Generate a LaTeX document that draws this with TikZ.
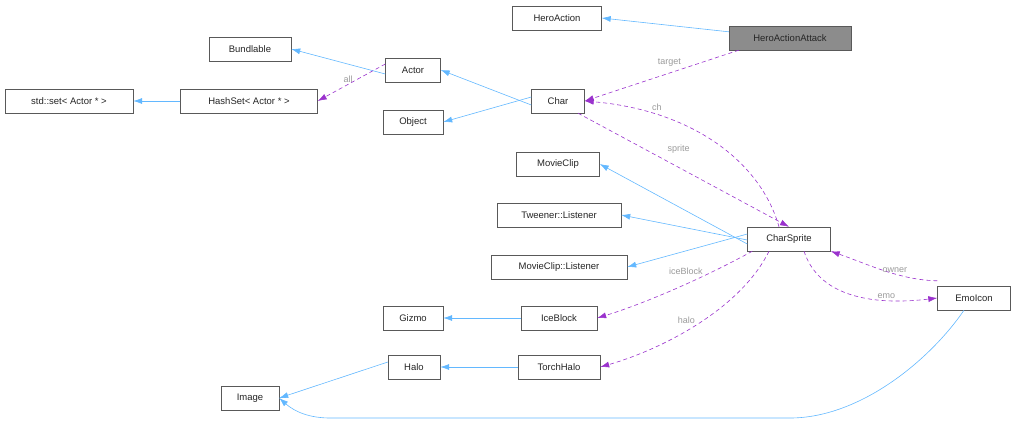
\documentclass[tikz,border=0pt]{standalone}
\usepackage{fontspec}
\setmainfont{Liberation Sans}
\usetikzlibrary{arrows.meta}
\definecolor{inh}{HTML}{63B8FF}
\definecolor{use}{HTML}{9A32CD}
\definecolor{lbl}{HTML}{9A9A9A}
\begin{document}
\begin{tikzpicture}[x=1pt,y=-1pt,
  box/.style={draw=black!65,fill=white,inner sep=0pt,minimum height=24pt,text=black!85,font=\fontsize{9.5}{11}\selectfont},
  inhe/.style={draw=inh,-{Latex[length=9pt,width=6pt]},line width=0.6pt},
  uses/.style={draw=use,dash pattern=on 4pt off 3pt,-{Latex[length=9pt,width=6pt]},line width=0.6pt},
  lb/.style={font=\fontsize{9}{10}\selectfont,text=lbl,inner sep=1pt}]
\useasboundingbox (0,0) rectangle (1017,424);
\node[box,minimum width=89pt] (ha) at (557,18) {HeroAction};
\node[box,minimum width=122pt,fill=black!45] (haa) at (790,38) {HeroActionAttack};
\node[box,minimum width=82pt] (bund) at (250,49) {Bundlable};
\node[box,minimum width=55pt] (actor) at (413,70) {Actor};
\node[box,minimum width=128pt] (set) at (69,101) {std::set< Actor * >};
\node[box,minimum width=137pt] (hash) at (249,101) {HashSet< Actor * >};
\node[box,minimum width=53pt] (char) at (558,101) {Char};
\node[box,minimum width=60pt] (obj) at (413,122) {Object};
\node[box,minimum width=83pt] (mc) at (558,164) {MovieClip};
\node[box,minimum width=124pt] (tl) at (559,215) {Tweener::Listener};
\node[box,minimum width=83pt] (cs) at (789,239) {CharSprite};
\node[box,minimum width=136pt] (mcl) at (559,267) {MovieClip::Listener};
\node[box,minimum width=60pt] (giz) at (413,318) {Gizmo};
\node[box,minimum width=76pt] (ice) at (559,318) {IceBlock};
\node[box,minimum width=73pt] (emo) at (974,298) {EmoIcon};
\node[box,minimum width=52pt] (halo) at (414,367) {Halo};
\node[box,minimum width=82pt] (th) at (559,367) {TorchHalo};
\node[box,minimum width=58pt] (img) at (250,398) {Image};
% inheritance
\draw[inhe] ([yshift=-6pt]haa.north west) -- (ha.east);
\draw[inhe] ([yshift=-4pt]actor.west) -- (bund.east);
\draw[inhe] (hash.west) -- (set.east);
\draw[inhe] ([yshift=-4pt]char.west) -- (actor.east);
\draw[inhe] ([yshift=4pt]char.west) -- (obj.east);
\draw[inhe] ([yshift=-5pt]cs.west) -- (mc.east);
\draw[inhe] ([yshift=-1pt]cs.west) -- (tl.east);
\draw[inhe] ([yshift=5pt]cs.west) -- (mcl.east);
\draw[inhe] (ice.west) -- (giz.east);
\draw[inhe] (th.west) -- (halo.east);
\draw[inhe] ([yshift=5pt]halo.west) -- (img.east);
\draw[inhe] ([xshift=-10pt]emo.south) .. controls (930,360) and (860,418) .. (790,418) -- (330,418) .. controls (310,418) and (295,412) .. (img.east);
% usage
\draw[uses] ([xshift=10pt]haa.south west) -- node[lb,above=5pt,pos=0.45]{target} (char.east);
\draw[uses] ([yshift=6pt]actor.west) -- node[lb,above,pos=0.55]{all} (hash.east);
\draw[uses] ([xshift=-10pt]cs.north) .. controls (760,160) and (690,110) .. node[lb,pos=0.75,above=3pt]{ch} (char.east);
\draw[uses] ([xshift=20pt]char.south) -- node[lb,pos=0.4,above right=4pt]{sprite} (cs.north);
\draw[uses] ([xshift=5pt]cs.south west) .. controls (700,280) and (640,305) .. node[lb,pos=0.3,above left]{iceBlock} (ice.east);
\draw[uses] ([xshift=-20pt]cs.south) .. controls (740,310) and (660,350) .. node[lb,pos=0.5,above left]{halo} (th.east);
\draw[uses] ([yshift=5pt]emo.north west) .. controls (900,280) and (870,265) .. node[lb,pos=0.4,above]{owner} (cs.south east);
\draw[uses] ([xshift=15pt]cs.south) .. controls (820,300) and (880,305) .. node[lb,pos=0.7,above]{emo} (emo.west);
\end{tikzpicture}
\end{document}
